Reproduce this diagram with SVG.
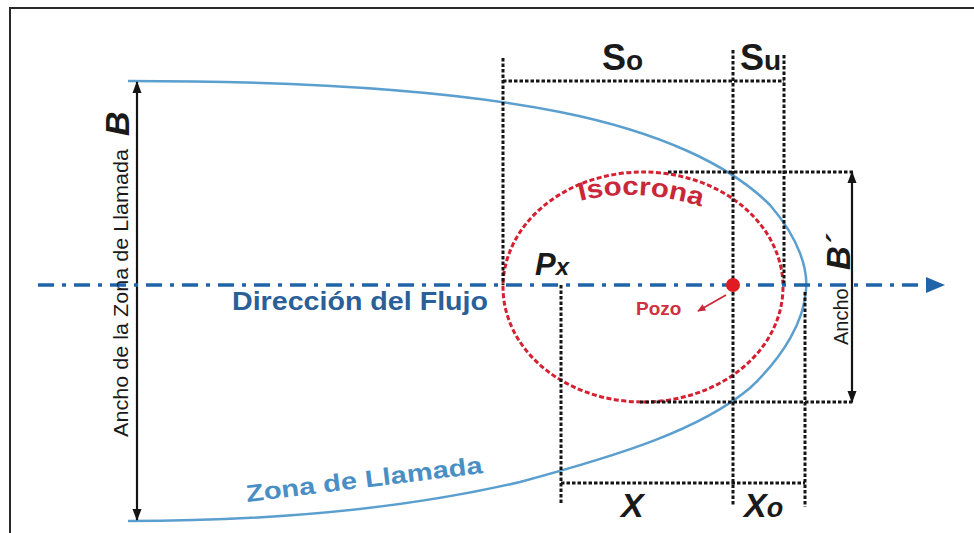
<svg xmlns="http://www.w3.org/2000/svg" width="974" height="533" viewBox="0 0 974 533">
<defs>
<style>
.dot{stroke:#141414;stroke-width:3;stroke-dasharray:3.5 2;fill:none}
.dim{stroke:#141414;stroke-width:2.2;fill:none}
.lbl{font-family:"Liberation Sans",Arial,sans-serif;fill:#1a1a1a}
.bi{font-weight:bold;font-style:italic}
</style>
<marker id="ah" viewBox="0 0 12 10" refX="11" refY="5" markerWidth="12" markerHeight="10" orient="auto-start-reverse" markerUnits="userSpaceOnUse">
<path d="M0,0.5 L12,5 L0,9.5 Z" fill="#141414"/>
</marker>
<marker id="rh" viewBox="0 0 10 10" refX="9" refY="5" markerWidth="9" markerHeight="8" orient="auto" markerUnits="userSpaceOnUse">
<path d="M0,0.5 L10,5 L0,9.5 Z" fill="#c8283a"/>
</marker>
</defs>
<rect width="974" height="533" fill="#ffffff"/>
<path d="M10,533 V8 H974" fill="none" stroke="#2a2a2a" stroke-width="2"/>

<g id="zona-llamada">
<path d="M128,81 C300,81 450,90 560,112 C660,132 730,165 770,205 C800,240 808,270 806,290 C804,320 785,355 750,388 C700,430 620,455 520,482 C400,510 260,521 128,521" fill="none" stroke="#5b9fcf" stroke-width="2.5"/>
<text transform="translate(247,502) rotate(-7)" font-family="Liberation Sans,Arial,sans-serif" font-weight="bold" font-size="24" fill="#4a8fc4" textLength="238" lengthAdjust="spacingAndGlyphs">Zona de Llamada</text>
</g>

<g id="isocrona">
<ellipse cx="643" cy="287" rx="140" ry="115" fill="none" stroke="#d42030" stroke-width="3" stroke-dasharray="5 2.5"/>
<path id="isoPath" d="M580,201 Q640,186 705,208" fill="none"/>
<text font-family="Liberation Sans,Arial,sans-serif" font-weight="bold" font-size="26" fill="#c8283a"><textPath href="#isoPath" textLength="123" lengthAdjust="spacingAndGlyphs">Isocrona</textPath></text>
</g>

<g id="connectors">
<line class="dot" x1="503" y1="58" x2="503" y2="285"/>
<line class="dot" x1="503" y1="81" x2="784" y2="81"/>
<line class="dot" x1="733" y1="50" x2="733" y2="505"/>
<line class="dot" x1="784" y1="55" x2="784" y2="285"/>
<line class="dot" x1="668" y1="172" x2="853" y2="172"/>
<line class="dot" x1="640" y1="402" x2="853" y2="402"/>
<line class="dot" x1="561" y1="285" x2="561" y2="505"/>
<line class="dot" x1="805" y1="292" x2="805" y2="507"/>
<line class="dot" x1="561" y1="483" x2="805" y2="483"/>
<line class="dim" x1="137" y1="82" x2="137" y2="520" marker-start="url(#ah)" marker-end="url(#ah)"/>
<line class="dim" x1="852" y1="172" x2="852" y2="402" marker-start="url(#ah)" marker-end="url(#ah)"/>
<line x1="38" y1="285" x2="928" y2="285" stroke="#1f63a8" stroke-width="3.5" stroke-dasharray="16 8 4 8"/>
<path d="M926,277 L945,285 L926,293 Z" fill="#1f63a8"/>
<line x1="726" y1="295" x2="698" y2="311" stroke="#c8283a" stroke-width="1.8" marker-end="url(#rh)"/>
</g>

<g id="pozo">
<circle cx="733" cy="285" r="7" fill="#e01b24"/>
<text x="636" y="315" font-family="Liberation Sans,Arial,sans-serif" font-weight="bold" font-size="19" fill="#d03040">Pozo</text>
</g>

<g id="labels">
<text x="232" y="310" font-family="Liberation Sans,Arial,sans-serif" font-weight="bold" font-size="26" fill="#2b5f98" textLength="256" lengthAdjust="spacingAndGlyphs">Dirección del Flujo</text>
<text class="lbl" x="602" y="70" font-weight="bold" font-size="36">S<tspan font-size="28">o</tspan></text>
<text class="lbl" x="740" y="70" font-weight="bold" font-size="36">S<tspan font-size="28">u</tspan></text>
<text class="lbl bi" x="621" y="517" font-size="34">X</text>
<text class="lbl bi" x="744" y="517" font-size="34">X<tspan font-size="27">o</tspan></text>
<text class="lbl bi" x="535" y="275" font-size="31">P<tspan font-size="24">x</tspan></text>
<text class="lbl" transform="translate(128,437) rotate(-90)" font-size="21" textLength="288" lengthAdjust="spacingAndGlyphs">Ancho de la Zona de Llamada</text>
<text class="lbl bi" transform="translate(129,136) rotate(-90)" font-size="34">B</text>
<text class="lbl" transform="translate(848,345) rotate(-90)" font-size="20">Ancho</text>
<text class="lbl bi" transform="translate(850,270) rotate(-90)" font-size="33">B´</text>
</g>
</svg>
